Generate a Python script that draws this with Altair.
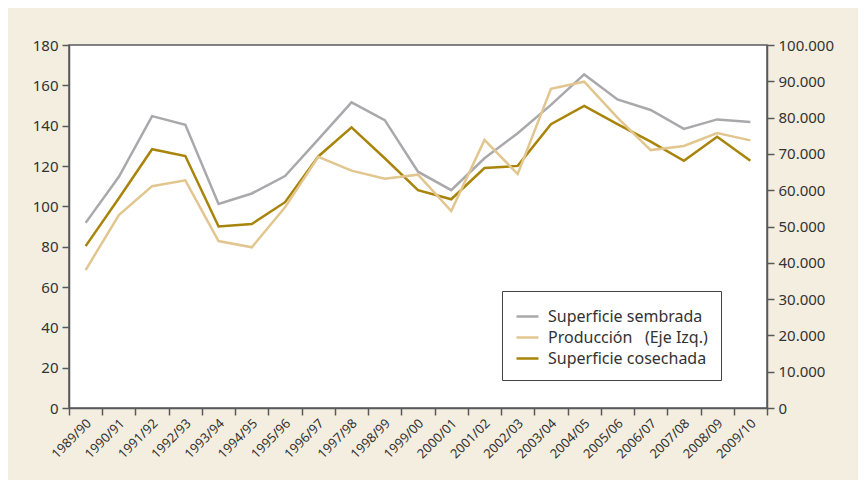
import altair as alt
import pandas as pd

periodos = ["1989/90", "1990/91", "1991/92", "1992/93", "1993/94", "1994/95", "1995/96",
            "1996/97", "1997/98", "1998/99", "1999/00", "2000/01", "2001/02", "2002/03",
            "2003/04", "2004/05", "2005/06", "2006/07", "2007/08", "2008/09", "2009/10"]

# Right axis (hectares)
sembrada = [51000, 63700, 80400, 78000, 56200, 59100, 63900, 74000, 84200, 79300, 65100,
            60000, 68800, 75700, 83500, 91900, 85000, 82100, 76900, 79500, 78800]
cosechada = [44600, 57800, 71300, 69400, 50000, 50700, 56700, 69300, 77300, 68800, 60000,
             57500, 66100, 66700, 78200, 83200, 78200, 73400, 68100, 74700, 68100]
# Left axis
produccion = [68.4, 95.7, 110.0, 112.9, 82.8, 79.7, 99.5, 124.6, 117.7, 113.7, 115.7,
              97.7, 132.9, 116.0, 158.3, 161.8, 144.0, 127.9, 129.9, 136.3, 132.7]

S_SEM = "Superficie sembrada"
S_PROD = "Producción\u00a0\u00a0 (Eje Izq.)"
S_COS = "Superficie cosechada"

df_left = pd.DataFrame({"periodo": periodos, "serie": S_PROD, "valor": produccion})
df_right = pd.concat([
    pd.DataFrame({"periodo": periodos, "serie": S_SEM, "valor": sembrada}),
    pd.DataFrame({"periodo": periodos, "serie": S_COS, "valor": cosechada}),
])

FONT = "Noto Sans"
AX = "#58595b"
TXT = "#333333"

color = alt.Color(
    "serie:N",
    scale=alt.Scale(domain=[S_SEM, S_PROD, S_COS], range=["#a9a8ab", "#e2c690", "#a8840a"]),
    legend=alt.Legend(
        title=None, orient="none", legendX=433, legendY=246,
        strokeColor="#444444", fillColor="white", padding=13,
        symbolType="stroke", symbolStrokeWidth=2.5, symbolSize=484,
        labelFontSize=16, labelFont=FONT, labelColor=TXT, labelLimit=300,
        rowPadding=0, labelOffset=8,
    ),
)

xenc = alt.X(
    "periodo:N", sort=periodos, bandPosition=0.5,
    scale=alt.Scale(type="band", paddingInner=0, paddingOuter=0),
    axis=alt.Axis(title=None, labelAngle=315, labelAlign="right", labelBaseline="middle",
                  tickBand="extent", labelFontSize=13, labelFont=FONT, labelColor=TXT,
                  domainColor=AX, tickColor=AX, domainWidth=1.5, tickWidth=1.5, tickSize=7,
                  labelPadding=6, labelOffset=3, grid=False),
)

left = alt.Chart(df_left).mark_line(strokeWidth=2.5).encode(
    x=xenc,
    y=alt.Y("valor:Q", scale=alt.Scale(domain=[0, 180], nice=False),
            axis=alt.Axis(title=None, values=list(range(0, 181, 20)), orient="left",
                          labelFontSize=15, labelFont=FONT, labelColor=TXT,
                          domainColor=AX, tickColor=AX, domainWidth=1.5, tickWidth=1.5,
                          tickSize=7, labelPadding=4, grid=False)),
    color=color,
)

right = alt.Chart(df_right).mark_line(strokeWidth=2.5).encode(
    x=xenc,
    y=alt.Y("valor:Q", scale=alt.Scale(domain=[0, 100000], nice=False),
            axis=alt.Axis(title=None, values=list(range(0, 100001, 10000)), orient="right",
                          labelExpr="datum.value == 0 ? '0' : format(datum.value/1000, 'd') + '.000'",
                          labelFontSize=15, labelFont=FONT, labelColor=TXT,
                          domainColor=AX, tickColor=AX, domainWidth=1.5, tickWidth=1.5,
                          tickSize=7, labelPadding=4, grid=False)),
    color=color,
)

chart = alt.layer(right, left).resolve_scale(y="independent").properties(
    width=698, height=363,
    autosize="none",
    padding={"left": 61, "top": 37, "right": 91, "bottom": 72},
    background="#f4eee0",
).configure_view(fill="white", stroke=AX, strokeWidth=1.5)

chart.save("out.html", embed_options={"renderer": "svg", "actions": False})
